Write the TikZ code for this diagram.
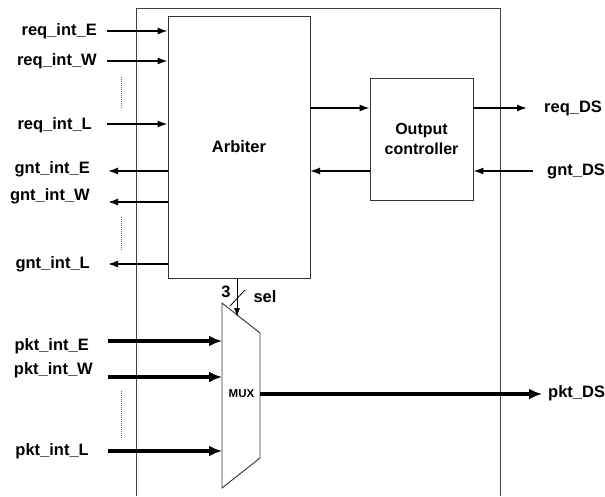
\documentclass[tikz,border=0pt]{standalone}
\usepackage{fontspec}
\setmainfont{Liberation Sans}
\usetikzlibrary{arrows.meta,calc}
\begin{document}
\begin{tikzpicture}[x=1pt,y=-1pt,
  lbl/.style={inner sep=0pt,font=\fontsize{16.5}{18}\selectfont\bfseries},
  small/.style={inner sep=0pt,font=\fontsize{11.5}{12}\selectfont\bfseries},
  blk/.style={draw=black!80,line width=0.9pt,inner sep=0pt},
  sig/.style={line width=1.4pt,-{Latex[length=10pt,width=7pt]}},
  bus/.style={line width=3.2pt,-{Latex[length=13pt,width=11pt]}},
  dots/.style={draw=black!60,line width=0.8pt,dash pattern=on 1pt off 1pt},
  frame/.style={draw=black!75,line width=0.9pt}]
\useasboundingbox (0,0) rectangle (605,496);
% outer frame
\draw[frame] (136,496) -- (136,8) -- (500,8) -- (500,496);
% blocks
\node[blk,minimum width=142pt,minimum height=262pt] (arb) at (239,147) {};
\node[lbl] at (239,147) {Arbiter};
\node[blk,minimum width=103pt,minimum height=122pt,align=center,
  font=\fontsize{16}{20}\selectfont\bfseries] (oc) at (421.5,139)
  {Output\\controller};
% MUX
\coordinate (m1) at (222,303);
\coordinate (m2) at (260,333);
\coordinate (m3) at (260,458);
\coordinate (m4) at (222,488);
\draw[blk] (m1) -- (m2) -- (m3) -- (m4) -- cycle;
\node[small] (mux) at (241.5,394) {MUX};
% request inputs
\node[lbl,anchor=east] (reqE) at (97,31) {req\_int\_E};
\node[lbl,anchor=east] (reqW) at (97,61) {req\_int\_W};
\node[lbl,anchor=east] (reqL) at (92,125) {req\_int\_L};
\coordinate (reqEs) at (107,31);
\coordinate (reqWs) at (107,61);
\coordinate (reqLs) at (107,124);
\draw[sig] (reqEs) -- (reqEs -| arb.west);
\draw[sig] (reqWs) -- (reqWs -| arb.west);
\draw[sig] (reqLs) -- (reqLs -| arb.west);
\draw[dots] (121,77) -- (121,108);
% grant outputs
\node[lbl,anchor=east] (gntE) at (90,169) {gnt\_int\_E};
\node[lbl,anchor=east] (gntW) at (90,196) {gnt\_int\_W};
\node[lbl,anchor=east] (gntL) at (90,264) {gnt\_int\_L};
\coordinate (gntEe) at (108,171);
\coordinate (gntWe) at (108,202);
\coordinate (gntLe) at (108,264);
\draw[sig] (gntEe -| arb.west) -- (gntEe);
\draw[sig] (gntWe -| arb.west) -- (gntWe);
\draw[sig] (gntLe -| arb.west) -- (gntLe);
\draw[dots] (121,217) -- (121,250);
% arbiter <-> output controller
\coordinate (a1) at (310,108);
\coordinate (a2) at (310,171);
\draw[sig] (a1) -- (a1 -| oc.west);
\draw[sig] (a2 -| oc.west) -- (a2);
% downstream
\node[lbl,anchor=west] (reqDS) at (544,108) {req\_DS};
\node[lbl,anchor=west] (gntDS) at (547,171) {gnt\_DS};
\draw[sig] (oc.east |- reqDS.west) -- (527,108);
\coordinate (gs) at (533,171);
\draw[sig] (gs) -- (gs -| oc.east);
% packet inputs
\node[lbl,anchor=east] (pktE) at (89,346) {pkt\_int\_E};
\node[lbl,anchor=east] (pktW) at (93,370) {pkt\_int\_W};
\node[lbl,anchor=east] (pktL) at (89,451) {pkt\_int\_L};
\coordinate (pEs) at (108,341);
\coordinate (pWs) at (108,377);
\coordinate (pLs) at (108,451);
\draw[bus] (pEs) -- (pEs -| m1);
\draw[bus] (pWs) -- (pWs -| m1);
\draw[bus] (pLs) -- (pLs -| m1);
\draw[dots] (121,391) -- (121,438);
% output
\node[lbl,anchor=west] (pktDS) at (548,393) {pkt\_DS};
\coordinate (mo) at (260,394);
\draw[bus] (mo) -- (542,394);
% select
\coordinate (selT) at (237,278);
\coordinate (selB) at (237,317);
\draw[sig,line width=1pt,-{Latex[length=9pt,width=6pt]}] (selT) -- (selB);
\draw[line width=0.8pt] (230,306) -- (245,290);
\node[lbl] (three) at (226,292) {3};
\node[lbl] (sel) at (265,297) {sel};
\end{tikzpicture}
\end{document}
